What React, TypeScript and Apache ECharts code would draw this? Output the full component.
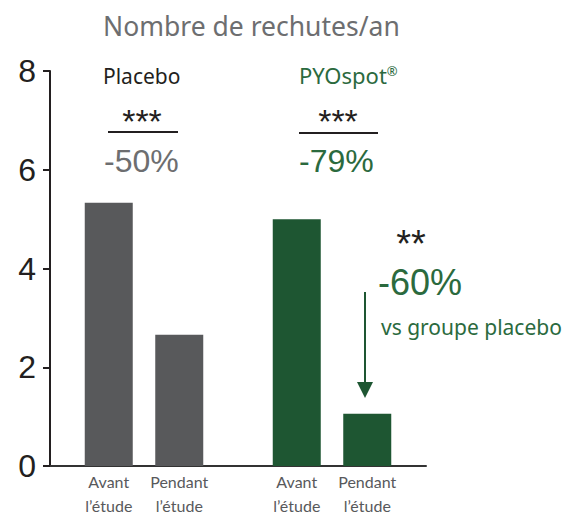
import React, { useEffect, useRef } from "react";
import * as echarts from "echarts";

const categories = ["Avant\nl’étude", "Pendant\nl’étude", "Avant\nl’étude", "Pendant\nl’étude"];
const groupNames = ["Placebo", "PYOspot"];
const placeboValues = [5.33, 2.66];
const pyospotValues = [5.0, 1.06];
const yTicks = [0, 2, 4, 6, 8];

// layout: 16 equal slots on the category axis, bars occupy these slots
const slotCount = 16;
const placeboSlots = [2, 5];
const pyospotSlots = [10, 13];

const GRAY = "#58595b";
const GREEN = "#1e5632";
const GREEN_TXT = "#2b6a3e";
const SANS = "'Liberation Sans', Arial, sans-serif";
const GEO = "'Noto Sans', Lato, sans-serif";
const LATO = "Lato, 'Noto Sans', sans-serif";

export default function App() {
  const ref = useRef<HTMLDivElement>(null);
  useEffect(() => {
    if (!ref.current) return;
    const chart = echarts.init(ref.current, null, { renderer: "svg" });

    const slotLabels: string[] = Array.from({ length: slotCount }, () => "");
    placeboSlots.forEach((s, i) => (slotLabels[s] = categories[i]));
    pyospotSlots.forEach((s, i) => (slotLabels[s] = categories[i + 2]));

    const placeboData: (number | string)[] = Array.from({ length: slotCount }, () => "-");
    placeboSlots.forEach((s, i) => (placeboData[s] = placeboValues[i]));
    const pyoData: (number | string)[] = Array.from({ length: slotCount }, () => "-");
    pyospotSlots.forEach((s, i) => (pyoData[s] = pyospotValues[i]));

    const txt = (text: string, x: number, y: number, size: number, color: string, font = SANS, align = "left") => ({
      type: "text",
      x,
      y,
      style: {
        text,
        fill: color,
        fontSize: size,
        fontFamily: font,
        textAlign: align,
        textVerticalAlign: "middle",
      },
    });

    chart.setOption({
      animation: false,
      title: {
        text: "Nombre de rechutes/an",
        left: 98,
        top: 7,
        textStyle: { fontSize: 26.5, fontWeight: "normal", color: "#6d6e70", fontFamily: GEO },
      },
      grid: { left: 50, width: 376, top: 71, height: 395, outerBoundsMode: "none", containLabel: false },
      xAxis: {
        type: "category",
        data: slotLabels,
        axisLine: { lineStyle: { color: "#333", width: 2 } },
        axisTick: { show: false },
        axisLabel: {
          interval: 0,
          margin: 3,
          fontSize: 16,
          lineHeight: 24,
          color: "#58595b",
          fontFamily: LATO,
        },
      },
      yAxis: {
        type: "value",
        min: yTicks[0],
        max: yTicks[yTicks.length - 1],
        interval: 2,
        splitLine: { show: false },
        axisLine: { show: true, lineStyle: { color: "#231f20", width: 2 } },
        axisTick: { show: true, length: 7, lineStyle: { color: "#231f20", width: 2 } },
        axisLabel: { fontSize: 32, color: "#231f20", fontFamily: SANS, margin: 14 },
      },
      series: [
        { name: groupNames[0], type: "bar", data: placeboData, barWidth: 48, barGap: "-100%", itemStyle: { color: GRAY } },
        { name: groupNames[1], type: "bar", data: pyoData, barWidth: 48, barGap: "-100%", itemStyle: { color: GREEN } },
      ],
      graphic: [
        txt(groupNames[0], 103, 76, 21, "#231f20", GEO),
        txt("***", 142, 121, 34, "#231f20", SANS, "center"),
        { type: "line", shape: { x1: 108, y1: 132, x2: 178, y2: 132 }, style: { stroke: "#231f20", lineWidth: 2 } },
        txt("-50%", 104, 161, 32, "#6d6e70"),
        {
          type: "text",
          x: 299,
          y: 75,
          style: {
            text: "{m|" + groupNames[1] + "}{s|®}",
            fill: GREEN_TXT,
            fontFamily: GEO,
            textVerticalAlign: "middle",
            rich: {
              m: { fontSize: 22, fontFamily: GEO, fill: GREEN_TXT, verticalAlign: "bottom" },
              s: { fontSize: 13, fontFamily: GEO, fill: GREEN_TXT, verticalAlign: "top" },
            },
          },
        },
        txt("***", 338, 121, 34, "#231f20", SANS, "center"),
        { type: "line", shape: { x1: 299, y1: 133, x2: 378, y2: 133 }, style: { stroke: "#231f20", lineWidth: 2 } },
        txt("-79%", 299, 161, 32, GREEN_TXT),
        txt("**", 411, 244, 38, "#231f20", SANS, "center"),
        txt("-60%", 378, 282, 36, GREEN_TXT),
        txt("vs groupe placebo", 381, 327, 21, GREEN_TXT, GEO),
        { type: "line", shape: { x1: 365, y1: 292, x2: 365, y2: 384 }, style: { stroke: GREEN, lineWidth: 2 } },
        { type: "polygon", shape: { points: [[357, 382], [373, 382], [365, 398]] }, style: { fill: GREEN } },
      ],
    });
    return () => chart.dispose();
  }, []);
  return <div ref={ref} style={{ position: "absolute", left: 0, top: 0, width: 582, height: 513 }} />;
}
